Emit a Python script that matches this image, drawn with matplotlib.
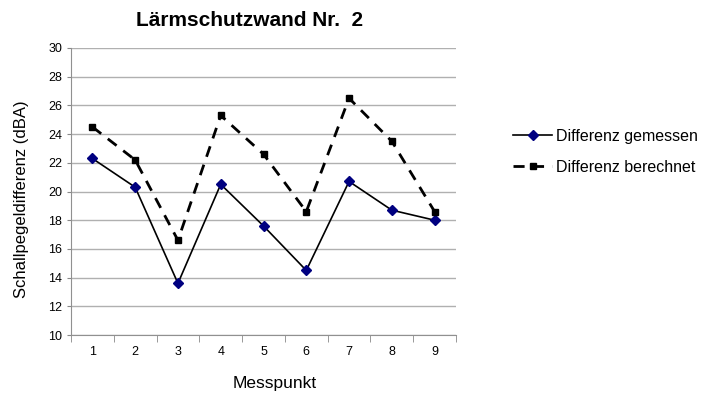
import matplotlib.pyplot as plt
import numpy as np

plt.rcParams["font.family"] = ["Liberation Sans", "DejaVu Sans"]

messpunkte = [1, 2, 3, 4, 5, 6, 7, 8, 9]
gemessen = [22.3, 20.3, 13.6, 20.5, 17.6, 14.5, 20.7, 18.7, 18.0]
berechnet = [24.5, 22.2, 16.6, 25.3, 22.6, 18.6, 26.5, 23.5, 18.6]

fig = plt.figure(figsize=(7.07, 4.0), dpi=100)
ax = fig.add_axes([71 / 707, 65 / 400, 385 / 707, 287 / 400])

ax.plot(messpunkte, gemessen, color="black", linewidth=1.2,
        marker="D", markersize=5, markerfacecolor="#000080",
        markeredgecolor="#000080", label="Differenz gemessen", zorder=3)
ax.plot(messpunkte, berechnet, color="black", linewidth=2, dashes=(4, 3),
        marker="s", markersize=5, markerfacecolor="black",
        markeredgecolor="black", label="Differenz berechnet", zorder=3)

ax.set_xlim(0.5, 9.5)
ax.set_ylim(10, 30)
ax.set_yticks(np.arange(10, 31, 2))
ax.set_xticks(messpunkte)
ax.set_xticks(np.arange(0.5, 9.6, 1), minor=True)
ax.tick_params(axis="x", which="major", length=0, pad=8, labelsize=9)
ax.tick_params(axis="x", which="minor", length=5, color="#888888")
ax.tick_params(axis="y", length=3, color="#888888", labelsize=9)
ax.grid(axis="y", color="#b0b0b0", linewidth=1)
ax.set_axisbelow(True)
for side in ["top", "right"]:
    ax.spines[side].set_visible(False)
for side in ["left", "bottom"]:
    ax.spines[side].set_color("#909090")

ax.set_xlabel("Messpunkt", fontsize=12.5)
ax.xaxis.set_label_coords((275 - 71) / 385, -(376 - 335) / 287)
ax.set_ylabel("Schallpegeldifferenz (dBA)", fontsize=12)
ax.yaxis.set_label_coords(-(71 - 29) / 385, (335 - 199) / 287)
fig.text(250 / 707, 1 - 20 / 400, "Lärmschutzwand Nr.  2", fontsize=15,
         fontweight="bold", ha="center", va="center")

fig.legend(loc="center left", bbox_to_anchor=(499 / 707, 1 - 152 / 400),
           frameon=False, fontsize=11.5, handlelength=2.4, labelspacing=1.0,
           handletextpad=0.3)

fig.savefig("out.png", dpi=100)
